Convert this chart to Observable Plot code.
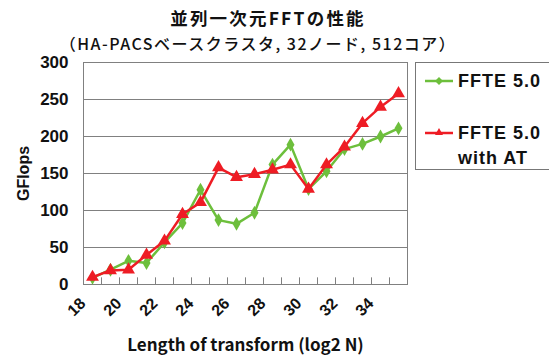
<!DOCTYPE html>
<html><head><meta charset="utf-8">
<script src="https://cdn.jsdelivr.net/npm/d3@7"></script>
<script src="https://cdn.jsdelivr.net/npm/@observablehq/plot@0.6"></script>
<style>
body{margin:0;background:#fff;}
#wrap{position:relative;width:549px;height:358px;overflow:hidden;font-family:"Noto Sans CJK JP",sans-serif;}
.t{position:absolute;text-align:center;font-weight:bold;color:#111;white-space:nowrap;line-height:18px;height:18px;}
#legend{position:absolute;left:415px;top:62px;width:150px;height:108px;border:1px solid #777;box-sizing:border-box;background:#fff;font-family:"Liberation Sans",Arial,sans-serif;font-weight:bold;color:#111;}
</style></head>
<body><div id="wrap"></div>
<script>
const lengths = [18,19,20,21,22,23,24,25,26,27,28,29,30,31,32,33,34,35];
const ffte = [9,20,32,29,57,83,128,87,82,97,162,189,129,153,183,190,200,211];
const ffteAT = [10,19,20,40,59,95,111,158,145,149,155,162,129,162,186,218,240,258];
const xTickLabels = [18,20,22,24,26,28,30,32,34];
const yTicks = [0,50,100,150,200,250,300];
const seriesNames = ["FFTE 5.0","FFTE 5.0 with AT"];
const colors = ["#6dbf3c","#ee1c24"];

const rows = [];
lengths.forEach((n,i)=>{
  rows.push({n, v: ffte[i], s: seriesNames[0]});
  rows.push({n, v: ffteAT[i], s: seriesNames[1]});
});
const boundaries = lengths.slice(1).map(n => n - 0.5);

const plot = Plot.plot({
  width: 549, height: 358,
  marginLeft: 83, marginRight: 142, marginTop: 62, marginBottom: 74,
  style: {fontFamily: "Liberation Sans, Arial, sans-serif", background: "#fff"},
  x: {domain: [lengths[0]-0.5, lengths[lengths.length-1]+0.5], axis: null},
  y: {domain: [0,300]},
  marks: [
    Plot.ruleY(yTicks, {stroke: "#808080", strokeWidth: 1}),
    Plot.frame({stroke: "#808080"}),
    Plot.ruleX(boundaries, {y1: 0, y2: 9, stroke: "#808080"}),
    Plot.axisY(yTicks, {tickSize: 0, tickPadding: 15, fontSize: 17, fontWeight: "bold", fill: "#111",
      label: "GFlops", labelAnchor: "center", labelArrow: "none", labelOffset: 66}),
    Plot.text(xTickLabels, {x: d => d, frameAnchor: "bottom", dy: 20, dx: -6, rotate: -45, textAnchor: "end",
      text: d => String(d), fontSize: 16, fontWeight: "bold", fill: "#111"}),
    Plot.text(["Length of transform (log2 N)"], {frameAnchor: "bottom", dy: 66, fontSize: 17, fontWeight: "bold", fill: "#111", fontFamily: "Noto Sans CJK JP", letterSpacing: "1px"}),
    Plot.line(rows.filter(d=>d.s===seriesNames[0]), {x: "n", y: "v", stroke: colors[0], strokeWidth: 2.5}),
    Plot.dot(rows.filter(d=>d.s===seriesNames[0]), {x: "n", y: "v", fill: colors[0], symbol: "diamond", r: 4.2}),
    Plot.line(rows.filter(d=>d.s===seriesNames[1]), {x: "n", y: "v", stroke: colors[1], strokeWidth: 2.5}),
    Plot.dot(rows.filter(d=>d.s===seriesNames[1]), {x: "n", y: "v", fill: colors[1], symbol: "triangle", r: 4.8})
  ]
});
const wrap = document.getElementById("wrap");
wrap.appendChild(plot);
plot.style.position = "absolute"; plot.style.left = "0"; plot.style.top = "0";
plot.querySelectorAll("[aria-label='y-axis label'] text, [aria-label='y-axis label']").forEach(el=>{el.setAttribute("font-size","16");el.setAttribute("font-weight","bold");});

const t1 = document.createElement("div"); t1.className="t"; t1.style.left="18px"; t1.style.width="500px"; t1.style.top="9px"; t1.style.fontSize="17.5px"; t1.style.letterSpacing="2.2px"; t1.textContent="並列一次元FFTの性能"; wrap.appendChild(t1);
const t2 = document.createElement("div"); t2.className="t"; t2.style.left="0px"; t2.style.width="516px"; t2.style.top="34px"; t2.style.fontSize="16px"; t2.style.fontWeight="500"; t2.style.letterSpacing="1.5px"; t2.textContent="（HA-PACSベースクラスタ, 32ノード, 512コア）"; wrap.appendChild(t2);

const lg = document.createElement("div"); lg.id="legend";
lg.innerHTML = `<svg width="150" height="108" style="position:absolute;left:0;top:0">
<line x1="9" x2="37" y1="18" y2="18" stroke="${colors[0]}" stroke-width="2.5"/>
<path d="M23,14 L27,18 L23,22 L19,18Z" fill="${colors[0]}"/>
<line x1="9" x2="37" y1="70" y2="70" stroke="${colors[1]}" stroke-width="2.5"/>
<path d="M23,65 L27,72 L19,72Z" fill="${colors[1]}"/>
<g font-size="18" font-weight="bold" fill="#111" letter-spacing="1">
<text x="42" y="24">${seriesNames[0]}</text>
<text x="42" y="76">FFTE 5.0</text>
<text x="42" y="101">with AT</text>
</g>
</svg>`;
wrap.appendChild(lg);
</script></body></html>
